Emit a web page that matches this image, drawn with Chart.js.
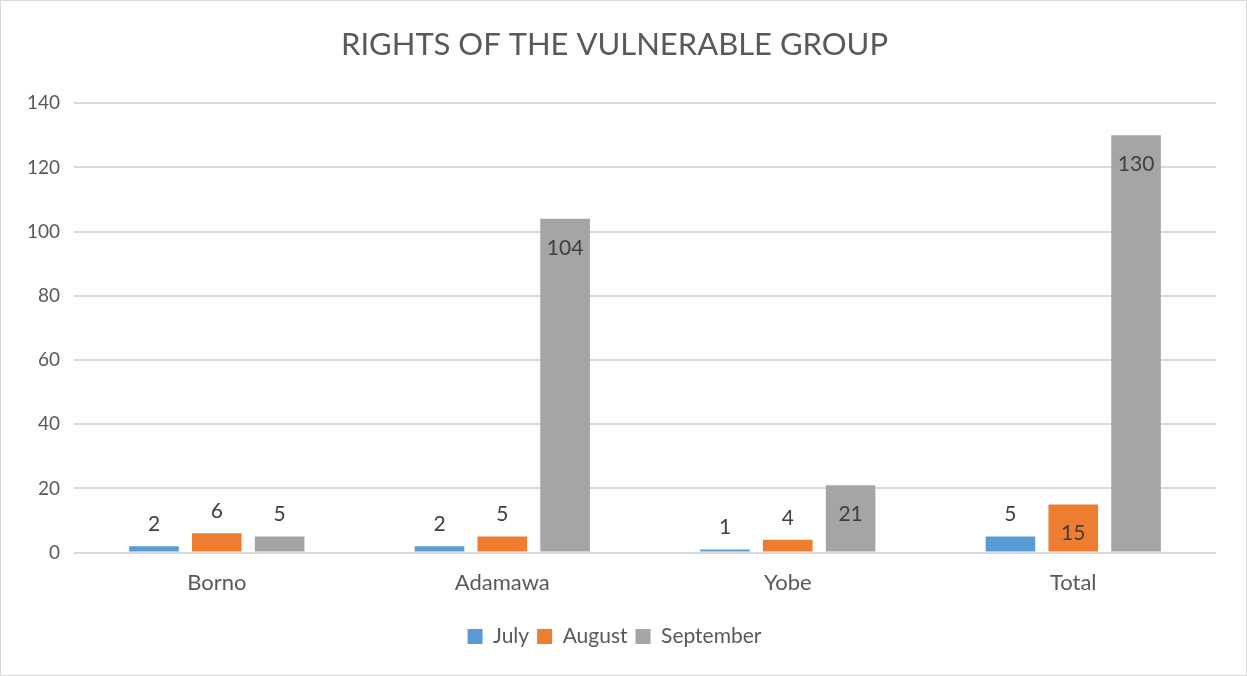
<!DOCTYPE html>
<html>
<head>
<meta charset="utf-8">
<script src="https://cdn.jsdelivr.net/npm/chart.js@4"></script>
<style>
  html, body { margin: 0; padding: 0; background: #fff; }
  #wrap { position: absolute; left: 0; top: 0; width: 1245px; height: 674px; border: 1px solid #d9d9d9; }
</style>
</head>
<body>
<div id="wrap"><canvas id="chart" width="1245" height="674"></canvas></div>
<script>
const categories = ["Borno", "Adamawa", "Yobe", "Total"];
const july = [2, 2, 1, 5];
const august = [6, 5, 4, 15];
const september = [5, 104, 21, 130];
const yTicks = [0, 20, 40, 60, 80, 100, 120, 140];

const ctx = document.getElementById("chart").getContext("2d");
const FONT = "Lato, 'Open Sans', sans-serif";

/* value labels, inside end for tall bars, above for short ones */
const valueLabels = {
  id: "valueLabels",
  afterDatasetsDraw(chart) {
    const c = chart.ctx;
    c.save();
    c.font = "21px " + FONT;
    c.fillStyle = "#404040";
    c.textAlign = "center";
    c.textBaseline = "middle";
    chart.data.datasets.forEach((ds, i) => {
      const meta = chart.getDatasetMeta(i);
      meta.data.forEach((bar, j) => {
        const v = ds.data[j];
        const y = v >= 15 ? bar.y + 29 : bar.y - 22;
        c.fillText(String(v), bar.x, y);
      });
    });
    c.restore();
  }
};

new Chart(ctx, {
  type: "bar",
  data: {
    labels: categories,
    datasets: [
      { label: "July", data: july, backgroundColor: "#5b9bd5" },
      { label: "August", data: august, backgroundColor: "#ed7d31" },
      { label: "September", data: september, backgroundColor: "#a5a5a5" }
    ]
  },
  options: {
    responsive: false,
    animation: false,
    layout: { padding: { left: 12, right: 30, top: 10, bottom: 18 } },
    datasets: { bar: { categoryPercentage: 0.66, barPercentage: 0.79 } },
    plugins: {
      title: {
        display: true,
        text: "RIGHTS OF THE VULNERABLE GROUP",
        color: "#595959",
        font: { family: FONT, size: 31, weight: "normal" },
        padding: { top: 15, bottom: 40 }
      },
      legend: {
        position: "bottom",
        labels: {
          color: "#595959",
          font: { family: FONT, size: 21 },
          boxWidth: 15, boxHeight: 15,
          padding: 8
        }
      },
      tooltip: { enabled: false }
    },
    scales: {
      x: {
        grid: { display: false },
        border: { display: false },
        ticks: { color: "#595959", font: { family: FONT, size: 22 }, padding: 9 },
        afterFit: axis => { axis.height += 13; }
      },
      y: {
        min: 0, max: 140,
        afterBuildTicks: axis => { axis.ticks = yTicks.map(v => ({ value: v })); },
        grid: { color: "#d9d9d9", lineWidth: 2, drawTicks: false },
        border: { display: false },
        ticks: { color: "#595959", font: { family: FONT, size: 19 }, padding: 14 }
      }
    }
  },
  plugins: [valueLabels]
});
</script>
</body>
</html>
